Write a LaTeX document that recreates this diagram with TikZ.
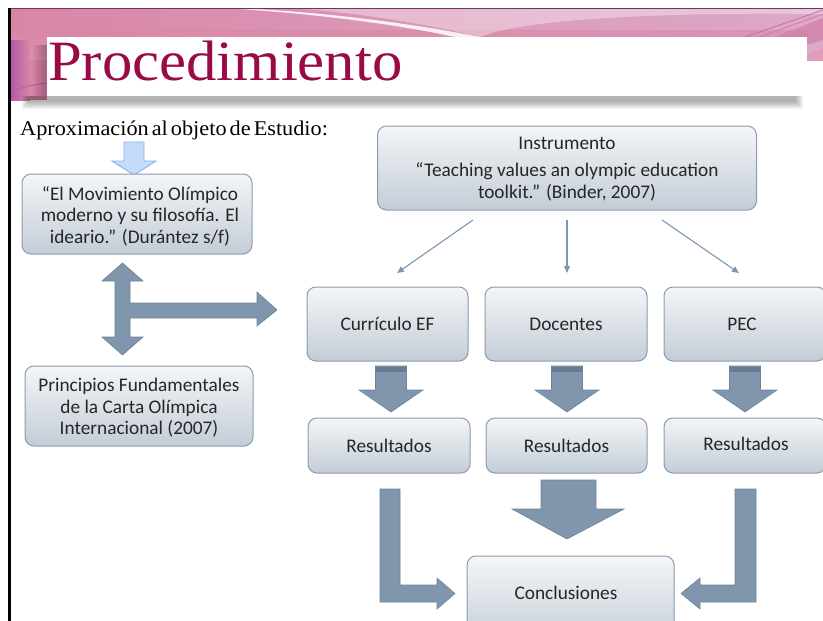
\documentclass[tikz,border=0pt]{standalone}
\usepackage{fontspec}
\setmainfont{Carlito}
\newfontfamily\titlef[FakeStretch=1.066]{Liberation Serif}
\newfontfamily\subf[FakeStretch=1.06, WordSpace=0.55]{Liberation Serif}
\usetikzlibrary{arrows.meta}
\definecolor{boxedge}{HTML}{8C9CAD}
\definecolor{boxtop}{HTML}{F4F6F8}
\definecolor{boxbot}{HTML}{C3CCD6}
\definecolor{arrfill}{HTML}{7F96AC}
\definecolor{arredge}{HTML}{6D8398}
\definecolor{arrdark}{HTML}{667C92}
\definecolor{titlered}{HTML}{9A0A44}
\definecolor{thinarr}{HTML}{7E96AE}
\definecolor{pinkL}{HTML}{D986A6}
\definecolor{pinkM}{HTML}{E193B2}
\definecolor{pinkR}{HTML}{DDA9C9}
\definecolor{pinkLow}{HTML}{E797B6}
\definecolor{purp}{HTML}{B45AA8}
\definecolor{lblue}{HTML}{C4DCFA}
\definecolor{lblueedge}{HTML}{80B2EE}
\definecolor{txt}{HTML}{262626}
\tikzset{
  gbox/.style={draw=boxedge, line width=1pt, rounded corners=9pt, top color=boxtop, bottom color=boxbot},
  blockarr/.style={fill=arrfill, draw=arredge, line width=0.6pt, line join=miter},
  btext/.style={font=\fontsize{19.3}{21.5}\selectfont, text=txt, align=center},
  thin/.style={draw=thinarr, line width=1.1pt, -{Triangle[length=7pt,width=6pt]}}
}
\begin{document}
\begin{tikzpicture}[x=1pt,y=-1pt]
\useasboundingbox (0,0) rectangle (823,621);
\begin{scope}
\clip (0,0) rectangle (823,621);
% ---------- header band ----------
\shade[left color=pinkL, right color=pinkR] (11,8) rectangle (823,60);
\shade[top color=pinkL, bottom color=pinkLow, opacity=0.6] (11,30) rectangle (823,60);
\fill[pinkL] (11,60) rectangle (47,100);
\shade[left color=purp, right color=pinkL] (11,40) rectangle (30,100);
\fill[pinkR] (807,30) -- (823,20) -- (823,48) -- (807,55) -- cycle;
% white swoosh
\fill[white, opacity=0.85] (235,8) .. controls (330,12) and (420,25) .. (480,37) -- (455,37) .. controls (400,25) and (320,14) .. (225,8) -- cycle;
\fill[white, opacity=0.35] (290,8) -- (823,8) -- (823,14) .. controls (650,12) and (520,20) .. (480,37) .. controls (420,22) and (350,12) .. cycle;
% right magenta strokes
\draw[purp!80!pink, line width=0.8pt] (745,37) -- (823,10);
\draw[purp!70!pink, line width=0.8pt] (760,37) -- (823,14);
\fill[pinkL!80!purp, opacity=0.7] (775,37) -- (823,18) -- (823,40) -- (807,45) -- (807,37) -- cycle;
% left purple curve
\draw[purp, line width=0.8pt] (11,92) .. controls (25,86) and (38,84) .. (47,83);
% top dark line
\draw[purp!60!black, line width=0.8pt] (11,8) -- (823,8);
% shadow of title box
\foreach \i in {0,...,7} {
  \fill[black, opacity=0.045] (22+\i,96) rectangle (803-\i,109-\i);
}
\foreach \i in {0,...,5} {
  \fill[black!60!purp, opacity=0.06] (33+\i*2,45) rectangle (47,96);
}
% title box
\fill[white] (47,37) rectangle (807,95);
\node[anchor=base west, inner sep=0pt, font=\titlef\fontsize{57}{57}\selectfont, text=titlered] (title) at (48,80) {Procedimiento};
% left black bar
\fill[black] (8,8) rectangle (11,621);
% subtitle
\node[anchor=base west, inner sep=0pt, font=\subf\fontsize{21}{21}\selectfont] (sub) at (20,135) {Aproximación al objeto de Estudio:};
% light blue arrow
\draw[fill=lblue, draw=lblueedge, line width=0.9pt, line join=miter]
  (124,142) -- (144,142) -- (144,161) -- (156,161) -- (134,175) -- (112,161) -- (124,161) -- cycle;
% ---------- left boxes ----------
\node[gbox, minimum width=230pt, minimum height=80pt] (mov) at (137,214) {};
\node[btext] at (140,216) {“El Movimiento Olímpico\\moderno y su filosofía. El\\ideario.” (Durántez s/f)};
\node[gbox, minimum width=228pt, minimum height=80pt] (prin) at (139,406) {};
\node[btext] at (139,408) {Principios Fundamentales\\de la Carta Olímpica\\Internacional (2007)};
% double arrow with branch
\draw[blockarr]
 (122.5,263) -- (143,281) -- (130,281) -- (130,303) -- (257,303) -- (257,292) -- (277,310)
 -- (257,326) -- (257,318) -- (130,318) -- (130,337) -- (143,337) -- (122.5,355)
 -- (102,337) -- (115,337) -- (115,281) -- (102,281) -- cycle;
% ---------- instrument ----------
\node[gbox, minimum width=379pt, minimum height=84pt] (inst) at (567,168) {};
\node[btext] at (567,143) {Instrumento};
\node[btext] at (567,182) {“Teaching values an olympic education\\toolkit.” (Binder, 2007)};
% ---------- row boxes ----------
\node[gbox, minimum width=161pt, minimum height=74pt] (cur) at (387.5,324) {};
\node[btext] at (cur) {Currículo EF};
\node[gbox, minimum width=162pt, minimum height=74pt] (doc) at (566,324) {};
\node[btext] at (doc) {Docentes};
\node[gbox, minimum width=162pt, minimum height=74pt] (pec) at (745,324) {};
\node[btext] at (742,324) {PEC};
% thin arrows
\coordinate (s1) at (473,220); \coordinate (e1) at (397,273);
\coordinate (s2) at (567,220); \coordinate (e2) at (567,273);
\coordinate (s3) at (662,220); \coordinate (e3) at (739,273);
\draw[thin] (s1) -- (e1);
\draw[thin] (s2) -- (e2);
\draw[thin] (s3) -- (e3);
% ---------- down arrows ----------
\foreach \cx/\nm in {391/a1,567/a2,745/a3} {
  \draw[blockarr] (\cx-15.5,366) -- (\cx+15.5,366) -- (\cx+15.5,390) -- (\cx+32,390) -- (\cx,412)
    -- (\cx-32,390) -- (\cx-15.5,390) -- cycle;
  \fill[arrdark] (\cx-15.2,366.5) rectangle (\cx+15.2,372);
}
% results boxes
\node[gbox, minimum width=162pt, minimum height=55pt] (r1) at (389,445.5) {};
\node[btext] at (r1) {Resultados};
\node[gbox, minimum width=161pt, minimum height=55pt] (r2) at (566.5,445.5) {};
\node[btext] at (r2) {Resultados};
\node[gbox, minimum width=162pt, minimum height=55pt] (r3) at (745,445.5) {};
\node[btext] at (746,444) {Resultados};
% big middle arrow
\draw[blockarr] (541,480) -- (596,480) -- (596,509) -- (624,509) -- (567,539) -- (512,509) -- (541,509) -- cycle;
% conclusions
\node[gbox, minimum width=207pt, minimum height=90pt] (conc) at (570.5,601) {};
\node[btext] at (566,593) {Conclusiones};
% L arrows
\draw[blockarr] (380,489) -- (400,489) -- (400,585) -- (437,585) -- (437,578) -- (455,593.5) -- (437,609) -- (437,602) -- (380,602) -- cycle;
\draw[blockarr] (756,489) -- (735,489) -- (735,585) -- (700,585) -- (700,578) -- (681,593.5) -- (700,609) -- (700,602) -- (756,602) -- cycle;
\end{scope}
\end{tikzpicture}
\end{document}
